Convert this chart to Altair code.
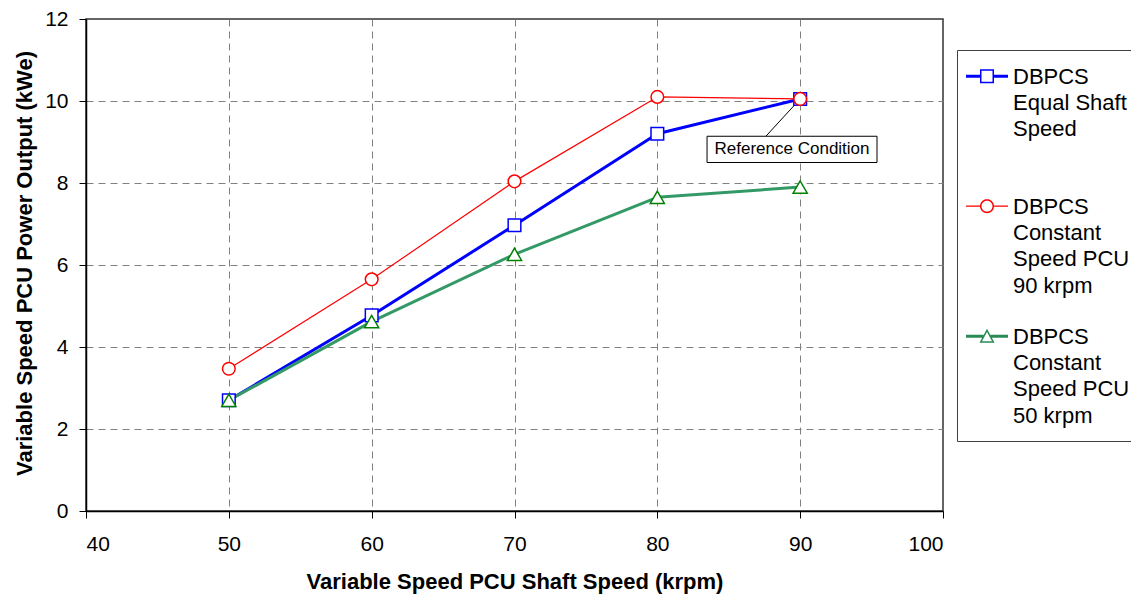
import math
import altair as alt
import pandas as pd

# ---------------- data ----------------
speeds = [50, 60, 70, 80, 90]
equal_shaft = [2.70, 4.77, 6.97, 9.20, 10.05]
const_90 = [3.47, 5.65, 8.04, 10.10, 10.05]
const_50 = [2.70, 4.62, 6.26, 7.65, 7.90]

series_names = [
    "DBPCS\nEqual Shaft\nSpeed",
    "DBPCS\nConstant\nSpeed PCU\n90 krpm",
    "DBPCS\nConstant\nSpeed PCU\n50 krpm",
]
series_values = [equal_shaft, const_90, const_50]

x_ticks = [40, 50, 60, 70, 80, 90, 100]
y_ticks = [0, 2, 4, 6, 8, 10, 12]

ann_text = ["Reference Condition"]
ann_x = [89.43]
ann_y = [8.82]
ann_box_x = [83.48]
ann_box_x2 = [95.38]
ann_box_y = [8.50]
ann_box_y2 = [9.14]
lead_x = [87.6]
lead_y = [9.14]
lead_x2 = [90.0]
lead_y2 = [10.05]

# ---------------- styles ----------------
FONT = "Liberation Sans"
line_colors = ["#0000FF", "#FF0000", "#339966"]
marker_colors = ["#0000FF", "#FF0000", "#008000"]
legend_fill = ["#0000FF", "#FF0000", "#2A8A55"]
line_widths = [3, 1.2, 3]
shapes = ["square", "circle", "triangle-up"]
sizes = [160, 160, 200]

rows = []
for name, vals in zip(series_names, series_values):
    for s, v in zip(speeds, vals):
        rows.append({"speed": s, "power": v, "series": name})
df = pd.DataFrame(rows)

# ---------------- legend symbol paths ----------------
SYM = 1600
S = math.sqrt(SYM) / 2.0  # px per path unit
DX = -4.0
DY = -7.8                 # lift symbol to first label line


def P(x, y):
    return f"{(x + DX) / S:.3f},{(y + DY) / S:.3f}"


def rect(x0, y0, x1, y1, cw=True):
    if cw:
        return f"M{P(x0, y0)}L{P(x1, y0)}L{P(x1, y1)}L{P(x0, y1)}Z"
    return f"M{P(x0, y0)}L{P(x0, y1)}L{P(x1, y1)}L{P(x1, y0)}Z"


def poly(pts, cw=True):
    if not cw:
        pts = pts[::-1]
    return "M" + "L".join(P(x, y) for x, y in pts) + "Z"


def circ(r, n=36):
    return [(r * math.cos(2 * math.pi * i / n), r * math.sin(2 * math.pi * i / n)) for i in range(n)]


path_blue = (rect(-21, -1.5, -7, 1.5) + rect(7, -1.5, 21, 1.5)
             + rect(-7, -7, 7, 7) + rect(-5.5, -5.5, 5.5, 5.5, cw=False))
path_red = (rect(-21, -0.6, -6.8, 0.6) + rect(6.8, -0.6, 21, 0.6)
            + poly(circ(7.0)) + poly(circ(5.5), cw=False))

A = (0.0, -7.5)
B = (7.5, 6.5)
C = (-7.5, 6.5)


def dist(p, q):
    return math.hypot(p[0] - q[0], p[1] - q[1])


a, b, c = dist(B, C), dist(A, C), dist(A, B)
Ix = (a * A[0] + b * B[0] + c * C[0]) / (a + b + c)
Iy = (a * A[1] + b * B[1] + c * C[1]) / (a + b + c)
area = abs((B[0] - A[0]) * (C[1] - A[1]) - (C[0] - A[0]) * (B[1] - A[1])) / 2
r_in = area / ((a + b + c) / 2)
k = (r_in - 1.5) / r_in
inner = [(Ix + k * (p[0] - Ix), Iy + k * (p[1] - Iy)) for p in (A, B, C)]
path_green = (rect(-21, -1.5, -3.6, 1.5) + rect(3.6, -1.5, 21, 1.5)
              + poly([A, B, C]) + poly(inner, cw=False))
legend_paths = [path_blue, path_red, path_green]

legend = alt.Legend(
    title=None,
    orient="none",
    legendX=871,
    legendY=31,
    direction="vertical",
    columns=1,
    padding=14,
    strokeColor="#404040",
    fillColor="white",
    symbolSize=SYM,
    symbolOffset=0,
    symbolStrokeWidth=0,
    symbolOpacity=1,
    labelOffset=2,
    labelFont=FONT,
    labelFontSize=22,
    labelColor="black",
    labelLimit=400,
    labelBaseline="alphabetic",
    labelExpr="split(datum.label, '\\n')",
    gridAlign="all",
    rowPadding=27,
)

grid_hide_x = {"condition": {"test": "datum.value == 40 || datum.value == 100", "value": 0}, "value": 1}
grid_hide_y = {"condition": {"test": "datum.value == 0 || datum.value == 12", "value": 0}, "value": 1}

x_enc = alt.X(
    "speed:Q",
    scale=alt.Scale(domain=[40, 100], nice=False, zero=False),
    axis=alt.Axis(
        values=x_ticks, title="Variable Speed PCU Shaft Speed (krpm)",
        grid=True, gridDash=[7, 5], gridColor="#808080", gridWidth=1, gridOpacity=grid_hide_x,
        tickSize=7, tickColor="black", tickWidth=1, domainColor="black", domainWidth=1.5,
        labelFont=FONT, labelFontSize=21, labelColor="black", labelPadding=15,
        titleFont=FONT, titleFontSize=22, titleFontWeight="bold", titleColor="black",
        titleY=77, titleBaseline="alphabetic",
    ),
)
y_enc = alt.Y(
    "power:Q",
    scale=alt.Scale(domain=[0, 12], nice=False),
    axis=alt.Axis(
        values=y_ticks, title="Variable Speed PCU Power Output (kWe)",
        grid=True, gridDash=[7, 5], gridColor="#808080", gridWidth=1, gridOpacity=grid_hide_y,
        tickSize=7, tickColor="black", tickWidth=1, domainColor="black", domainWidth=1.5,
        labelFont=FONT, labelFontSize=21, labelColor="black", labelPadding=11,
        titleFont=FONT, titleFontSize=22, titleFontWeight="bold", titleColor="black",
        titleX=-55, titleY=244, titleAlign="center", titleBaseline="alphabetic", titleAngle=270,
    ),
)

# legend-only layer: zero-size marks, its shape/fill scales feed the legend
legend_layer = alt.Chart(df).mark_point(
    filled=True, size=0, strokeWidth=0
).encode(
    x=x_enc,
    y=y_enc,
    shape=alt.Shape("series:N", scale=alt.Scale(domain=series_names, range=legend_paths), legend=legend),
    fill=alt.Fill("series:N", scale=alt.Scale(domain=series_names, range=legend_fill), legend=legend),
)

line_layers = []
for name, col, w in zip(series_names, line_colors, line_widths):
    line_layers.append(
        alt.Chart(df).transform_filter(alt.datum.series == name)
        .mark_line(color=col, strokeWidth=w, strokeJoin="round")
        .encode(x="speed:Q", y="power:Q")
    )

point_layers = []
for name, col, shp, sz in zip(series_names, marker_colors, shapes, sizes):
    point_layers.append(
        alt.Chart(df).transform_filter(alt.datum.series == name)
        .mark_point(filled=True, fill="white", stroke=col, strokeWidth=1.5, opacity=1, shape=shp, size=sz)
        .encode(x="speed:Q", y="power:Q")
    )

lead_df = pd.DataFrame({"x": lead_x, "y": lead_y, "x2": lead_x2, "y2": lead_y2})
leader = alt.Chart(lead_df).mark_rule(color="black", strokeWidth=1).encode(
    x="x:Q", y="y:Q", x2="x2:Q", y2="y2:Q")

box_df = pd.DataFrame({"x": ann_box_x, "x2": ann_box_x2, "y": ann_box_y, "y2": ann_box_y2})
box = alt.Chart(box_df).mark_rect(fill="white", stroke="black", strokeWidth=1).encode(
    x="x:Q", x2="x2:Q", y="y:Q", y2="y2:Q")

txt_df = pd.DataFrame({"x": ann_x, "y": ann_y, "t": ann_text})
txt = alt.Chart(txt_df).mark_text(font=FONT, fontSize=17, color="black",
                                  align="center", baseline="middle").encode(
    x="x:Q", y="y:Q", text="t:N")

chart = alt.layer(legend_layer, leader, box, txt, *line_layers, *point_layers).properties(
    width=857,
    height=492,
    autosize=alt.AutoSizeParams(type="none"),
    padding={"left": 86, "top": 19, "right": 188, "bottom": 84},
    background="white",
).configure(
    font=FONT,
    style={"guide-label": {"lineHeight": 26.2}},
).configure_view(stroke="#333333", strokeWidth=1.5)

chart.save("out.html", embed_options={"renderer": "svg", "actions": False})
